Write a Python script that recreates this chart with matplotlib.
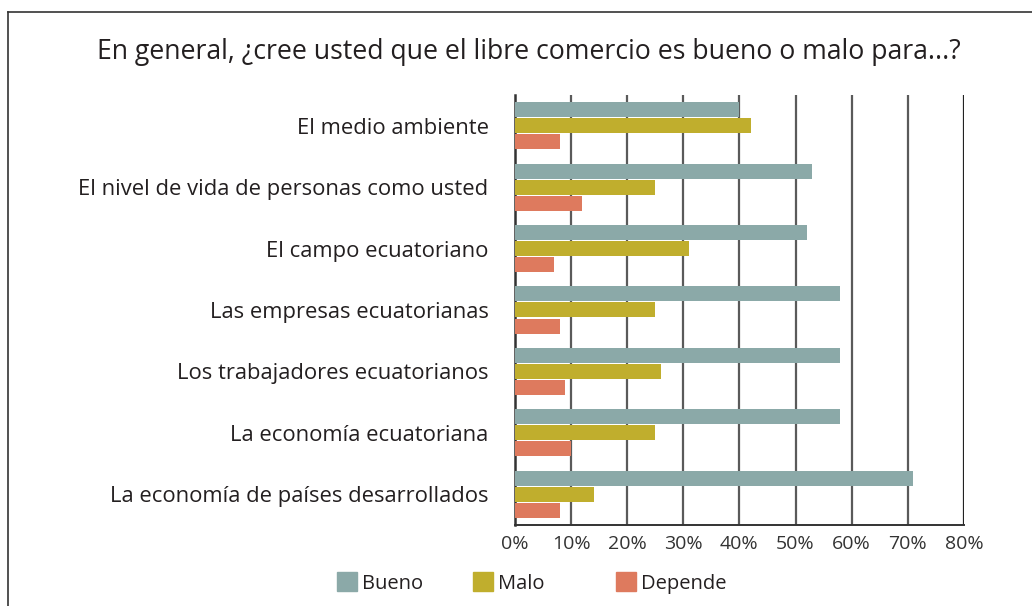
import numpy as np
import matplotlib.pyplot as plt
from matplotlib.patches import Rectangle
from matplotlib.lines import Line2D

plt.rcParams['font.family'] = ['Open Sans', 'DejaVu Sans']

# datos (porcentajes)
categorias = ["El medio ambiente",
              "El nivel de vida de personas como usted",
              "El campo ecuatoriano",
              "Las empresas ecuatorianas",
              "Los trabajadores ecuatorianos",
              "La economía ecuatoriana",
              "La economía de países desarrollados"]
bueno = [40, 53, 52, 58, 58, 58, 71]
malo = [42, 25, 31, 25, 26, 25, 14]
depende = [8, 12, 7, 8, 9, 10, 8]
ticks = [0, 10, 20, 30, 40, 50, 60, 70, 80]
series = ["Bueno", "Malo", "Depende"]

c_bueno = "#8ba9a8"
c_malo = "#c0ae2d"
c_depende = "#de7a5e"
colores = [c_bueno, c_malo, c_depende]

fig = plt.figure(figsize=(10.32, 6.06), dpi=100)
ax = fig.add_axes([0.499, 0.134, 0.435, 0.709])

y = np.arange(len(categorias))
h = 0.245
off = 0.262
ax.barh(y - off, bueno, height=h, color=c_bueno, zorder=3)
ax.barh(y, malo, height=h, color=c_malo, zorder=3)
ax.barh(y + off, depende, height=h, color=c_depende, zorder=3)

ax.set_xlim(0, 80)
ax.set_ylim(len(categorias) - 0.5, -0.5)
ax.set_xticks(ticks)
ax.set_xticklabels([f"{t}%" for t in ticks], fontsize=14, color="#333333")
ax.set_yticks(y)
ax.set_yticklabels(categorias, fontsize=15.8, color="#231f20")
ax.tick_params(axis="y", length=0, pad=19)
ax.tick_params(axis="x", length=0, pad=7)

for t in ticks[1:-1]:
    ax.axvline(t, color="#5a5a5a", lw=1.6, zorder=1)
ax.axvline(80, color="#222222", lw=1.6, zorder=1)
for s in ["top", "right"]:
    ax.spines[s].set_visible(False)
ax.spines["left"].set_color("#333333")
ax.spines["left"].set_linewidth(1.8)
ax.spines["bottom"].set_color("#333333")
ax.spines["bottom"].set_linewidth(1.4)

fig.text(0.512, 0.914,
         "En general, ¿cree usted que el libre comercio es bueno o malo para...?",
         ha="center", va="center", fontsize=19.2, color="#231f20")

# marco de la figura (izquierda y arriba)
fig.add_artist(Line2D([0.008, 0.008], [0, 0.980], color="#333333", lw=1.2,
                      transform=fig.transFigure))
fig.add_artist(Line2D([0.008, 1.0], [0.980, 0.980], color="#333333", lw=1.2,
                      transform=fig.transFigure))

# leyenda a mano (posiciones como en el original)
leg_x = [0.3265, 0.458, 0.597]
for xx, nombre, col in zip(leg_x, series, colores):
    fig.add_artist(Rectangle((xx, 0.0245), 0.0194, 0.032, color=col,
                             transform=fig.transFigure))
    fig.text(xx + 0.0245, 0.037, nombre, ha="left", va="center",
             fontsize=14.5, color="#231f20")

fig.savefig("out.png", dpi=100)
